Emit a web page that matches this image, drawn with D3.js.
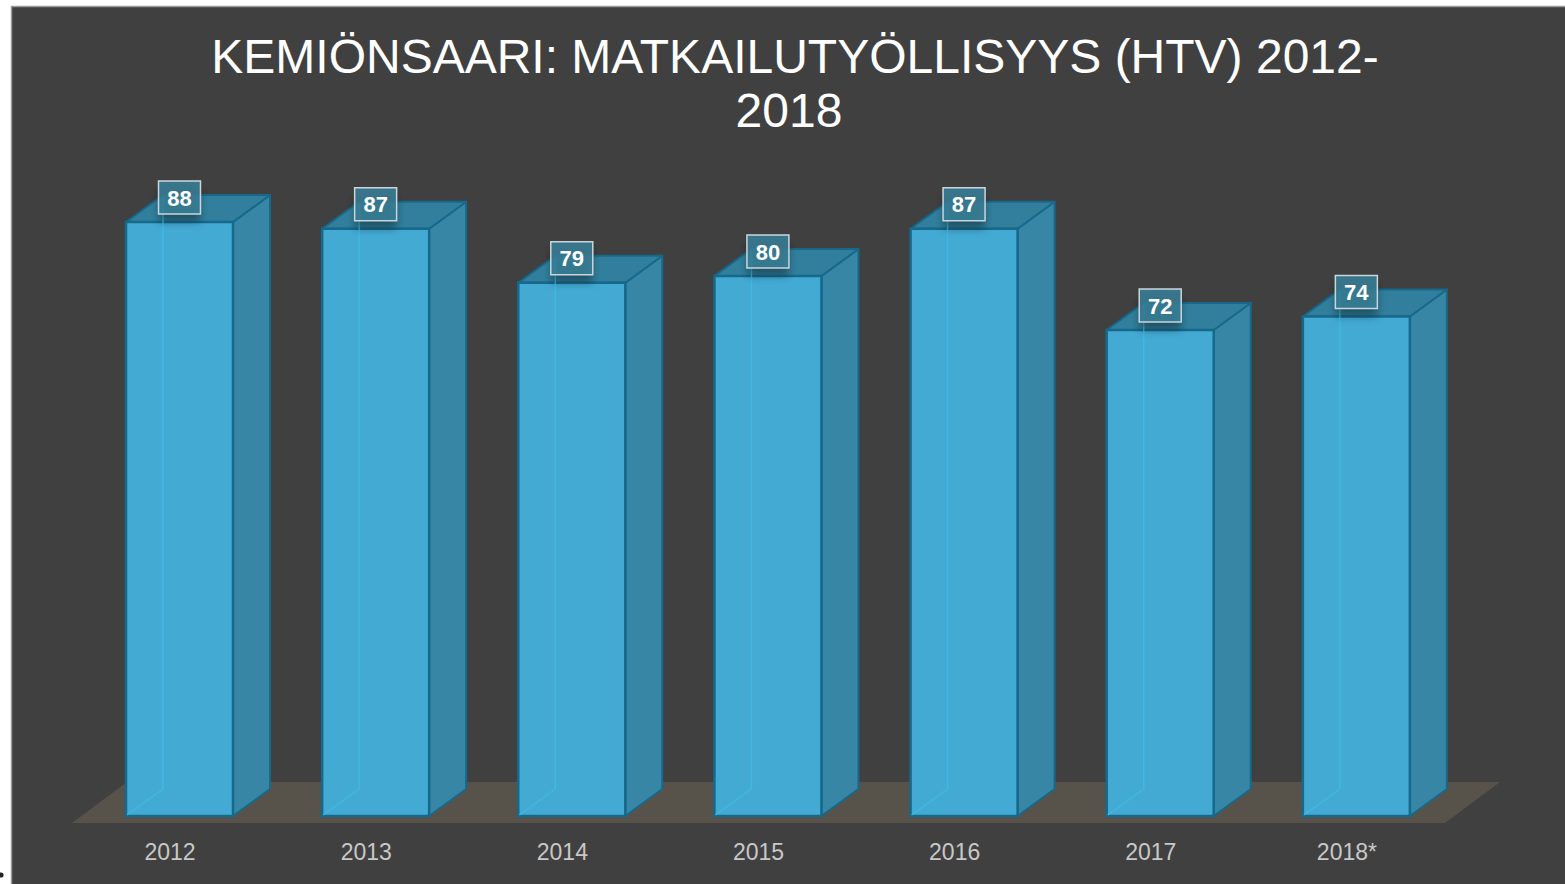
<!DOCTYPE html>
<html>
<head>
<meta charset="utf-8">
<script src="https://cdn.jsdelivr.net/npm/d3@7"></script>
<style>
  html, body { margin: 0; padding: 0; background: #ffffff; }
  svg { display: block; }
</style>
</head>
<body>
<svg id="chart" width="1565" height="884"></svg>
<script>
// Tourism employment (full-time equivalents), Kemiönsaari
const titleLines = ["KEMIÖNSAARI: MATKAILUTYÖLLISYYS (HTV) 2012-", "2018"];
const years = ["2012", "2013", "2014", "2015", "2016", "2017", "2018*"];
const values = [88, 87, 79, 80, 87, 72, 74];

const W = 1565, H = 884;
const svg = d3.select("#chart");

// panel background
svg.append("rect")
  .attr("x", 11).attr("y", 6).attr("width", W - 11).attr("height", H - 6)
  .attr("fill", "#404040");
svg.append("path")
  .attr("d", `M11.5,${H} V6.5 H${W}`)
  .attr("fill", "none").attr("stroke", "#9a9a9a").attr("stroke-width", 1.5);
svg.append("circle").attr("cx", 1).attr("cy", 875).attr("r", 2.6).attr("fill", "#222");

const defs = svg.append("defs");
const shadow = defs.append("filter").attr("id", "lblShadow")
  .attr("x", "-50%").attr("y", "-50%").attr("width", "200%").attr("height", "220%");
shadow.append("feGaussianBlur").attr("in", "SourceAlpha").attr("stdDeviation", 4);
shadow.append("feOffset").attr("dx", 0).attr("dy", 8).attr("result", "b");
shadow.append("feComponentTransfer").append("feFuncA").attr("type", "linear").attr("slope", 0.35);

// title
svg.append("text")
  .attr("x", 795).attr("y", 73)
  .attr("text-anchor", "middle")
  .attr("font-family", "Liberation Sans, Arial, sans-serif")
  .attr("font-size", 48).attr("fill", "#ffffff")
  .selectAll("tspan").data(titleLines).join("tspan")
  .attr("x", (d, i) => i === 0 ? 795 : 789)
  .attr("dy", (d, i) => i === 0 ? 0 : 54)
  .text(d => d);

// scales
const x = d3.scaleBand().domain(years).range([72, 1445]).paddingInner(0).paddingOuter(0);
const y = d3.scaleLinear().domain([0, 100]).range([816, 141]);

// 3D depth of the bars and of the floor
const bdx = 37, bdy = -27;
const fdx = 55, fdy = -41;
const barOffset = 54, barW = 107;

// floor
const floorY = 823;
svg.append("path")
  .attr("d", `M${x.range()[0]},${floorY} L${x.range()[1]},${floorY} L${x.range()[1] + fdx},${floorY + fdy} L${x.range()[0] + fdx},${floorY + fdy} Z`)
  .attr("fill", "#57534b");

const bars = svg.append("g").selectAll("g").data(years.map((c, i) => ({ c, v: values[i] })))
  .join("g");

const edge = "#17698c";

bars.each(function (d) {
  const g = d3.select(this);
  const x0 = x(d.c) + barOffset, x1 = x0 + barW;
  const yT = y(d.v), yB = y(0);
  // right side face
  g.append("path")
    .attr("d", `M${x1},${yB} L${x1 + bdx},${yB + bdy} L${x1 + bdx},${yT + bdy} L${x1},${yT} Z`)
    .attr("fill", "#3786a6").attr("stroke", edge).attr("stroke-width", 2).attr("stroke-linejoin", "round");
  // top face
  g.append("path")
    .attr("d", `M${x0},${yT} L${x1},${yT} L${x1 + bdx},${yT + bdy} L${x0 + bdx},${yT + bdy} Z`)
    .attr("fill", "#317f9c").attr("stroke", edge).attr("stroke-width", 2).attr("stroke-linejoin", "round");
  // front face
  g.append("rect")
    .attr("x", x0).attr("y", yT).attr("width", barW).attr("height", yB - yT)
    .attr("fill", "#43aad4").attr("stroke", edge).attr("stroke-width", 2.5);
  // hidden back edges seen through the translucent front
  g.append("path")
    .attr("d", `M${x0 + bdx},${yT + bdy + 2} V${yB + bdy} M${x0 + 1},${yB - 1} L${x0 + bdx},${yB + bdy}`)
    .attr("fill", "none").attr("stroke", "#3fbbe6").attr("stroke-width", 1.5).attr("opacity", 0.8);
});

// value labels
const labelFont = "Liberation Sans, Arial, sans-serif";
bars.each(function (d) {
  const g = d3.select(this);
  const cx = x(d.c) + barOffset + barW / 2;
  const cy = y(d.v) - 24.5;
  g.append("rect")
    .attr("x", cx - 21).attr("y", cy - 16.5).attr("width", 42).attr("height", 33)
    .attr("fill", "#000").attr("filter", "url(#lblShadow)");
  g.append("rect")
    .attr("x", cx - 21).attr("y", cy - 16.5).attr("width", 42).attr("height", 33)
    .attr("fill", "#3a8099").attr("fill-opacity", 0.85)
    .attr("stroke", "#c9d6db").attr("stroke-width", 1.5);
  g.append("text")
    .attr("x", cx).attr("y", cy + 8)
    .attr("text-anchor", "middle")
    .attr("font-family", labelFont).attr("font-weight", "bold")
    .attr("font-size", 22).attr("fill", "#ffffff")
    .text(d.v);
});

// category axis
const axis = svg.append("g").attr("transform", `translate(0,${floorY})`)
  .call(d3.axisBottom(x).tickSize(0).tickPadding(21));
axis.select(".domain").remove();
axis.selectAll("text")
  .attr("font-family", "Liberation Sans, Arial, sans-serif")
  .attr("font-size", 23).attr("fill", "#c8c8c8")
  .attr("dy", "0.71em");
</script>
</body>
</html>
